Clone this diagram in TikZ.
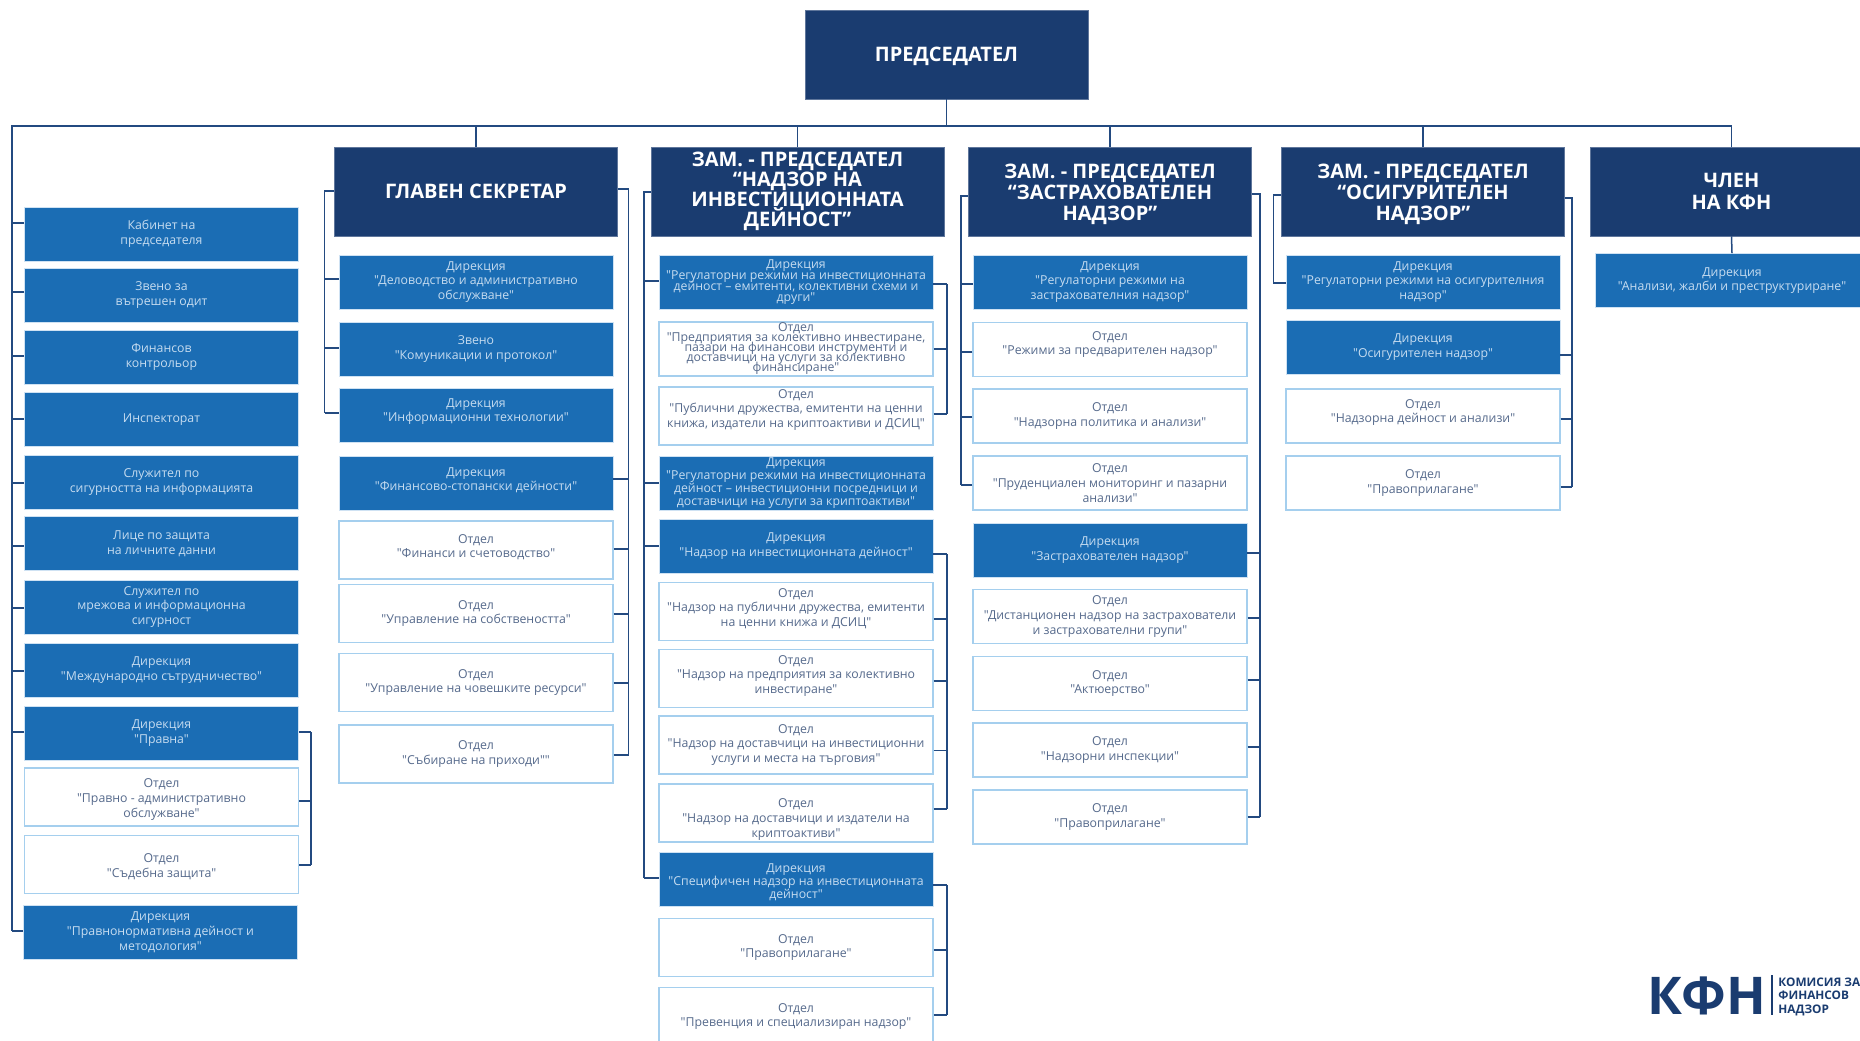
\documentclass[tikz,border=0pt]{standalone}
\usepackage{fontspec}
\setmainfont{Open Sans}[Ligatures=TeXOff]
\definecolor{headblue}{HTML}{1A3C70}
\definecolor{dirblue}{HTML}{1B6DB4}
\definecolor{diredge}{HTML}{CFE2F3}
\definecolor{deptedge}{HTML}{A5CFEE}
\definecolor{dirtext}{HTML}{C6DCF0}
\definecolor{depttext}{HTML}{566A8C}
\definecolor{linkblue}{HTML}{234A80}
\newcommand{\boxfont}[1]{\fontsize{6.15}{#1}\selectfont}
\normallineskiplimit=-6pt
\lineskiplimit=-6pt
\tikzset{
	headbox/.style={rectangle,fill=headblue,draw=headblue!70!white,line width=0.3pt,text=white,align=center,minimum width=141.5pt,minimum height=44.5pt,inner sep=0pt,font=\bfseries\fontsize{10}{10.6}\selectfont},
	dirbox/.style={rectangle,fill=dirblue,draw=diredge,line width=0.4pt,text=dirtext,align=center,minimum width=137pt,minimum height=27pt,inner sep=0pt,font=\boxfont{7.4}},
	deptbox/.style={rectangle,fill=white,draw=deptedge,line width=0.6pt,text=depttext,align=center,minimum width=137pt,minimum height=29pt,inner sep=0pt,font=\boxfont{7.4}},
	linkline/.style={draw=linkblue,line width=0.75pt,line cap=square},
	logotext/.style={text=headblue,anchor=west,align=left,inner sep=0pt,font=\bfseries\fontsize{5.9}{6.75}\selectfont}
}
\begin{document}
\begin{tikzpicture}[x=0.5pt,y=-0.5pt]
	\useasboundingbox (0,0) rectangle (1860,1040);
	\clip (0,0) rectangle (1860,1040);

	\draw (946.5,54.5) node[headbox,text height=9pt] (chair) {ПРЕДСЕДАТЕЛ};
	\draw (476,191.5) node[headbox] (secretary) {ГЛАВЕН СЕКРЕТАР};
	\draw (797.5,191.5) node[headbox,minimum width=146.5pt,font=\bfseries\fontsize{10}{9.9}\selectfont] (investhead) {ЗАМ. - ПРЕДСЕДАТЕЛ\\“НАДЗОР НА\\ИНВЕСТИЦИОННАТА\\ДЕЙНОСТ”};
	\draw (1110,191.5) node[headbox,text height=31pt] (insurhead) {ЗАМ. - ПРЕДСЕДАТЕЛ\\“ЗАСТРАХОВАТЕЛЕН\\НАДЗОР”};
	\draw (1423,191.5) node[headbox,text height=31pt] (pensionhead) {ЗАМ. - ПРЕДСЕДАТЕЛ\\“ОСИГУРИТЕЛЕН\\НАДЗОР”};
	\draw (1731.5,191.5) node[headbox] (member) {ЧЛЕН\\НА КФН};

	\draw (161.5,234) node[dirbox] (cabinet) {Кабинет на\\председателя};
	\draw (161.5,295) node[dirbox] (audit) {Звено за\\вътрешен одит};
	\draw (161.5,357) node[dirbox] (control) {Финансов\\контрольор};
	\draw (161.5,419.5) node[dirbox] (inspect) {Инспекторат};
	\draw (161.5,482) node[dirbox] (infosec) {Служител по\\сигурността на информацията};
	\draw (161.5,543.5) node[dirbox] (privacy) {Лице по защита\\на личните данни};
	\draw (161.5,607) node[dirbox] (netsec) {Служител по\\мрежова и информационна\\сигурност};
	\draw (161.5,670) node[dirbox] (intl) {Дирекция\\"Международно сътрудничество"};
	\draw (161.5,733) node[dirbox] (legal) {Дирекция\\"Правна"};
	\draw (161.5,797) node[deptbox,text height=21.5pt] (legaladm) {Отдел\\"Правно - административно\\обслужване"};
	\draw (161.5,864.5) node[deptbox,text height=14pt] (court) {Отдел\\"Съдебна защита"};
	\draw (160.5,932) node[dirbox] (norms) {Дирекция\\"Правнонормативна дейност и\\методология"};

	\draw (476,282) node[dirbox] (records) {Дирекция\\"Деловодство и административно\\обслужване"};
	\draw (476,349) node[dirbox] (comms) {Звено\\"Комуникации и протокол"};
	\draw (476,415) node[dirbox,text depth=5pt] (infotech) {Дирекция\\"Информационни технологии"};
	\draw (476,483) node[dirbox,text depth=4pt] (finadm) {Дирекция\\"Финансово-стопански дейности"};
	\draw (476,550) node[deptbox,text depth=4pt] (account) {Отдел\\"Финанси и счетоводство"};
	\draw (476,613.5) node[deptbox] (property) {Отдел\\"Управление на собствеността"};
	\draw (476,682.5) node[deptbox] (staff) {Отдел\\"Управление на човешките ресурси"};
	\draw (476,754) node[deptbox] (revenue) {Отдел\\"Събиране на приходи""};

	\draw (796,282) node[dirbox,font=\boxfont{5.5}] (regimea) {Дирекция\\"Регулаторни режими на инвестиционната\\дейност – емитенти, колективни схеми и\\други"};
	\draw (796,349) node[deptbox,minimum height=27pt,font=\boxfont{5}] (funds) {Отдел\\"Предприятия за колективно инвестиране,\\пазари на финансови инструменти и\\доставчици на услуги за колективно\\финансиране"};
	\draw (796,416) node[deptbox,text depth=7.5pt] (issuers) {Отдел\\"Публични дружества, емитенти на ценни\\книжа, издатели на криптоактиви и ДСИЦ"};
	\draw (796,483) node[dirbox,font=\boxfont{6.5}] (regimeb) {Дирекция\\"Регулаторни режими на инвестиционната\\дейност – инвестиционни посредници и\\доставчици на услуги за криптоактиви"};
	\draw (796,546) node[dirbox] (invest) {Дирекция\\"Надзор на инвестиционната дейност"};
	\draw (796,611.5) node[deptbox,text depth=4pt] (publicco) {Отдел\\"Надзор на публични дружества, емитенти\\на ценни книжа и ДСИЦ"};
	\draw (796,678.5) node[deptbox,text depth=4pt] (collect) {Отдел\\"Надзор на предприятия за колективно\\инвестиране"};
	\draw (796,745) node[deptbox] (brokers) {Отдел\\"Надзор на доставчици на инвестиционни\\услуги и места на търговия"};
	\draw (796,813) node[deptbox,text height=25.5pt] (crypto) {Отдел\\"Надзор на доставчици и издатели на\\криптоактиви"};
	\draw (796,879) node[dirbox,font=\boxfont{6.5},text height=20.5pt] (special) {Дирекция\\"Специфичен надзор на инвестиционната\\дейност"};
	\draw (796,947.5) node[deptbox] (enforcea) {Отдел\\"Правоприлагане"};
	\draw (796,1016.5) node[deptbox] (prevent) {Отдел\\"Превенция и специализиран надзор"};

	\draw (1110,282) node[dirbox] (regimec) {Дирекция\\"Регулаторни режими на\\застрахователния надзор"};
	\draw (1110,349.5) node[deptbox,minimum height=27pt,text depth=6.5pt] (prior) {Отдел\\"Режими за предварителен надзор"};
	\draw (1110,416) node[deptbox,minimum height=27pt] (policy) {Отдел\\"Надзорна политика и анализи"};
	\draw (1110,483) node[deptbox,minimum height=27pt] (prudent) {Отдел\\"Пруденциален мониторинг и пазарни\\анализи"};
	\draw (1110,550) node[dirbox] (insur) {Дирекция\\"Застрахователен надзор"};
	\draw (1110,616.5) node[deptbox,minimum height=27pt] (remote) {Отдел\\"Дистанционен надзор на застрахователи\\и застрахователни групи"};
	\draw (1110,683.5) node[deptbox,minimum height=27pt] (actuary) {Отдел\\"Актюерство"};
	\draw (1110,750) node[deptbox,minimum height=27pt] (inspects) {Отдел\\"Надзорни инспекции"};
	\draw (1110,817) node[deptbox,minimum height=27pt] (enforceb) {Отдел\\"Правоприлагане"};

	\draw (1423,282) node[dirbox] (regimed) {Дирекция\\"Регулаторни режими на осигурителния\\надзор"};
	\draw (1423,347) node[dirbox] (pension) {Дирекция\\"Осигурителен надзор"};
	\draw (1423,416) node[deptbox,minimum height=27pt,text depth=5pt] (supervise) {Отдел\\"Надзорна дейност и анализи"};
	\draw (1423,483) node[deptbox,minimum height=27pt] (enforcec) {Отдел\\"Правоприлагане"};

	\draw (1732,280.5) node[dirbox] (appeals) {Дирекция\\"Анализи, жалби и преструктуриране"};

	\coordinate (busleft) at (12,126);
	\coordinate (busright) at (1731.5,126);
	\draw[linkline] (chair.south) -- (chair.south |- busleft);
	\draw[linkline] (busright) -- (busleft) -- (busleft |- 0,931);
	\foreach \n in {secretary,investhead,insurhead,pensionhead,member}
		\draw[linkline] (\n.north) -- (\n.north |- busleft);
	\draw[linkline] (member.south) -- (appeals.north);

	\foreach \n/\y in {cabinet/223,audit/292,control/356,inspect/419,infosec/483,privacy/546,netsec/608,intl/671,legal/732,norms/931}
		\draw[linkline] (\n.west |- 0,\y) -- (busleft |- 0,\y);

	\coordinate (legalspine) at (311,732);
	\draw[linkline] (legalspine) -- (legalspine |- 0,865);
	\foreach \n/\y in {legal/732,legaladm/801,court/865}
		\draw[linkline] (\n.east |- 0,\y) -- (legalspine |- 0,\y);

	\coordinate (secleft) at (324.5,191);
	\draw[linkline] (secretary.west |- secleft) -- (secleft) -- (secleft |- 0,413);
	\foreach \n/\y in {records/279,comms/348,infotech/413}
		\draw[linkline] (\n.west |- 0,\y) -- (secleft |- 0,\y);
	\coordinate (secright) at (628.5,189);
	\draw[linkline] (secretary.east |- secright) -- (secright) -- (secright |- 0,755);
	\foreach \n/\y in {finadm/479,account/549,property/614,staff/683,revenue/755}
		\draw[linkline] (\n.east |- 0,\y) -- (secright |- 0,\y);

	\coordinate (invleft) at (644,192);
	\draw[linkline] (investhead.west |- invleft) -- (invleft) -- (invleft |- 0,878);
	\foreach \n/\y in {regimea/281,regimeb/483,invest/546,special/878}
		\draw[linkline] (\n.west |- 0,\y) -- (invleft |- 0,\y);
	\coordinate (regspine) at (947,284);
	\draw[linkline] (regspine) -- (regspine |- 0,414);
	\foreach \n/\y in {regimea/284,funds/349,issuers/414}
		\draw[linkline] (\n.east |- 0,\y) -- (regspine |- 0,\y);
	\coordinate (invspine) at (947,554);
	\draw[linkline] (invspine) -- (invspine |- 0,809);
	\foreach \n/\y in {invest/554,publicco/619,collect/681,brokers/750.5,crypto/809}
		\draw[linkline] (\n.east |- 0,\y) -- (invspine |- 0,\y);
	\coordinate (spespine) at (947,885);
	\draw[linkline] (spespine) -- (spespine |- 0,1015);
	\foreach \n/\y in {special/885,enforcea/950,prevent/1015}
		\draw[linkline] (\n.east |- 0,\y) -- (spespine |- 0,\y);

	\coordinate (insleft) at (961,196);
	\draw[linkline] (insurhead.west |- insleft) -- (insleft) -- (insleft |- 0,485);
	\foreach \n/\y in {regimec/284,prior/352,policy/417,prudent/485}
		\draw[linkline] (\n.west |- 0,\y) -- (insleft |- 0,\y);
	\coordinate (insright) at (1260,194);
	\draw[linkline] (insurhead.east |- insright) -- (insright) -- (insright |- 0,817);
	\foreach \n/\y in {insur/553,remote/618,actuary/680,inspects/747,enforceb/817}
		\draw[linkline] (\n.east |- 0,\y) -- (insright |- 0,\y);

	\coordinate (penleft) at (1273.7,195);
	\draw[linkline] (pensionhead.west |- penleft) -- (penleft) -- (penleft |- 0,283) -- (regimed.west |- 0,283);
	\coordinate (penright) at (1572,198);
	\draw[linkline] (pensionhead.east |- penright) -- (penright) -- (penright |- 0,487);
	\foreach \n/\y in {pension/355,supervise/419,enforcec/487}
		\draw[linkline] (\n.east |- 0,\y) -- (penright |- 0,\y);

	\draw (1707,995.5) node[text=headblue,inner sep=0pt,font=\bfseries\fontsize{26}{26}\selectfont] (logomark) {КФН};
	\coordinate (logotop) at (1772,975);
	\draw[draw=headblue,line width=0.6pt] (logotop) -- (logotop |- 0,1015);
	\draw (1778,996.5) node[logotext] (logoname) {КОМИСИЯ ЗА\\ФИНАНСОВ\\НАДЗОР};
\end{tikzpicture}
\end{document}
